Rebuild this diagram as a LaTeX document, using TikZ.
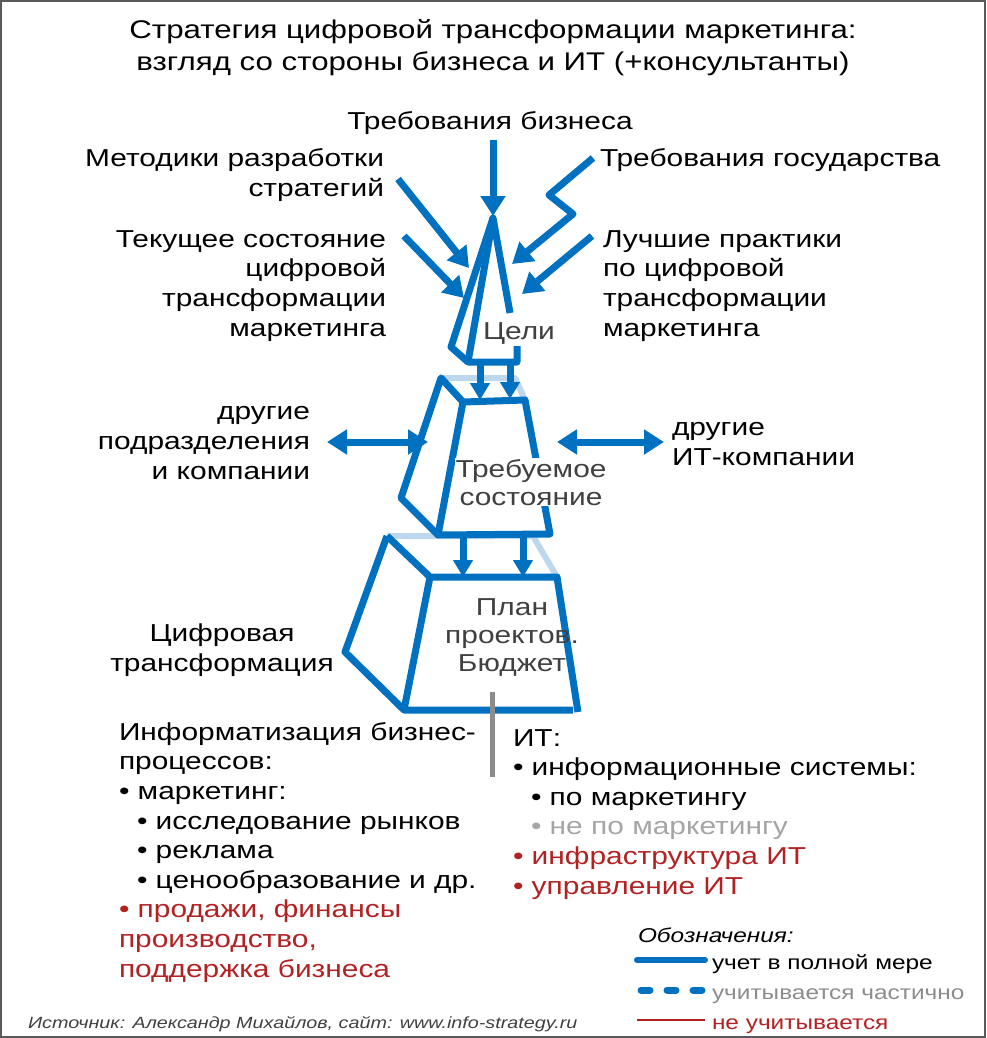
\documentclass[tikz,border=0pt]{standalone}
\usepackage{fontspec}
\setmainfont{Liberation Sans}[FakeStretch=1.22]
\usetikzlibrary{arrows.meta}
\definecolor{cblue}{RGB}{0,112,192}
\definecolor{clight}{RGB}{189,215,238}
\definecolor{cred}{RGB}{178,34,34}
\definecolor{cdgrey}{RGB}{64,64,64}
\definecolor{clgrey}{RGB}{165,165,165}
\definecolor{cmgrey}{RGB}{140,140,140}
\definecolor{cframe}{RGB}{90,90,90}
\begin{document}
\begin{tikzpicture}[x=1pt,y=-1pt,
  every node/.style={inner sep=0pt,outer sep=0pt},
  body/.style={font=\fontsize{24.5}{29.6}\selectfont},
  ttl/.style={font=\fontsize{25.6}{32}\selectfont},
  inner/.style={font=\fontsize{24.5}{28}\selectfont,text=cdgrey},
  legtxt/.style={font=\fontsize{20}{24}\selectfont},
  bl/.style={draw=cblue,line width=7pt,line join=round},
  lb/.style={draw=clight,line width=6pt,line join=round},
  arr/.style={bl,-{Triangle[length=20pt,width=24pt]}},
  sarr/.style={bl,-{Triangle[length=17pt,width=19pt]}},
  darr/.style={bl,{Triangle[length=20pt,width=24pt]}-{Triangle[length=20pt,width=24pt]}}
]
\useasboundingbox (0,0) rectangle (986,1038);
\draw[cframe,line width=2pt] (1,1) rectangle (985,1037);

% ---------- coordinates ----------
% top pyramid
\coordinate (P) at (493,218);
\coordinate (L1) at (451,347);
\coordinate (L2) at (468,362);
\coordinate (R1) at (510,313);
\coordinate (R2) at (517,346);
\coordinate (R3) at (517,362);
% middle block
\coordinate (Mbl) at (441,378);
\coordinate (Mbr) at (515,378);
\coordinate (Mtl) at (463,402);
\coordinate (Mtr) at (525,400);
\coordinate (Mdr) at (550,534);
\coordinate (Mdl) at (438,535);
\coordinate (Mo) at (401,498);
% bottom block
\coordinate (Bbl) at (387,536);
\coordinate (Bbr) at (533,536);
\coordinate (Btl) at (430,577);
\coordinate (Btr) at (557,577);
\coordinate (Bdr) at (578,712);
\coordinate (Bdl) at (404,710);
\coordinate (Bdr2) at (573,710);
\coordinate (Bo) at (345,652);

% arrow coordinates
\coordinate (a1s) at (493,140);  \coordinate (a1e) at (493,216);
\coordinate (a2s) at (398,179);  \coordinate (a2e) at (469,268);
\coordinate (a3s) at (404,236);  \coordinate (a3e) at (464,298);
\coordinate (a4s) at (593,158);  \coordinate (a4m) at (549,195);
\coordinate (a4n) at (573,214);  \coordinate (a4e) at (512,264);
\coordinate (a5s) at (592,236);  \coordinate (a5e) at (522,294);
\coordinate (d1s) at (480,362);  \coordinate (d1e) at (480,400);
\coordinate (d2s) at (510,362);  \coordinate (d2e) at (510,399);
\coordinate (d3s) at (463,535);  \coordinate (d3e) at (463,577);
\coordinate (d4s) at (523,534);  \coordinate (d4e) at (523,577);
\coordinate (h1s) at (327,442);  \coordinate (h1e) at (428,442);
\coordinate (h2s) at (557,442);  \coordinate (h2e) at (664,442);
\coordinate (g1) at (492,692);   \coordinate (g2) at (492,777);

% ---------- light (partial) back edges ----------
\draw[lb] (Mbl) -- (Mbr) -- (Mtr);
\draw[lb] (Bbl) -- (Bbr) -- (Btr);

% ---------- blue shapes ----------
\draw[bl] (R1) -- (P) -- (L1) -- (L2) -- (R3) -- (R2);
\draw[bl] (P) -- (L2);
\draw[bl] (Mbl) -- (Mtl) -- (Mtr) -- (Mdr) -- (Mdl) -- (Mo) -- cycle;
\draw[bl] (Mtl) -- (Mdl);
\draw[bl] (Bbl) -- (Btl) -- (Btr) -- (Bdr);
\draw[bl] (Btl) -- (Bdl);
\draw[bl] (Bbl) -- (Bo) -- (Bdl) -- (Bdr2);

% ---------- arrows ----------
\draw[arr] (a1s) -- (a1e);
\draw[arr] (a2s) -- (a2e);
\draw[arr] (a3s) -- (a3e);
\draw[arr] (a4s) -- (a4m) -- (a4n) -- (a4e);
\draw[arr] (a5s) -- (a5e);
\draw[sarr] (d1s) -- (d1e);
\draw[sarr] (d2s) -- (d2e);
\draw[sarr] (d3s) -- (d3e);
\draw[sarr] (d4s) -- (d4e);
\draw[darr] (h1s) -- (h1e);
\draw[darr] (h2s) -- (h2e);
\draw[draw=cmgrey,line width=5pt] (g1) -- (g2);

% ---------- texts (base anchor = baseline of last line) ----------
\node[ttl,anchor=base,align=center] (title) at (493,71)
  {Стратегия цифровой трансформации маркетинга:\\взгляд со стороны бизнеса и ИТ (+консультанты)};
\node[body,anchor=base] (biz) at (490,129) {Требования бизнеса};
\node[body,anchor=base east,align=right] (met) at (384,196) {Методики разработки\\стратегий};
\node[body,anchor=base west] (gos) at (600,166) {Требования государства};
\node[body,anchor=base east,align=right] (cur) at (386,336)
  {Текущее состояние\\цифровой\\трансформации\\маркетинга};
\node[body,anchor=base west,align=left] (best) at (603,336)
  {Лучшие практики\\по цифровой\\трансформации\\маркетинга};
\node[inner,anchor=base] (goals) at (519,339) {Цели};
\node[body,anchor=base east,align=right] (oth) at (310,479)
  {другие\\подразделения\\и компании};
\node[body,anchor=base west,align=left] (oit) at (672,465) {другие\\ИТ-компании};
\node[inner,anchor=base,align=center,fill=white,inner sep=1pt] (req) at (531,505)
  {Требуемое\\состояние};
\node[inner,anchor=base,align=center] (plan) at (512,671) {План\\проектов.\\Бюджет};
\node[body,anchor=base,align=center] (digit) at (222,671) {Цифровая\\трансформация};
\node[body,anchor=base west,align=left] (inf) at (119,977)
  {Информатизация бизнес-\\процессов:\\• маркетинг:\\\hspace*{18pt}• исследование рынков\\\hspace*{18pt}• реклама\\\hspace*{18pt}• ценообразование и др.\\
   \textcolor{cred}{• продажи, финансы}\\\textcolor{cred}{производство,}\\\textcolor{cred}{поддержка бизнеса}};
\node[body,anchor=base west,align=left] (it) at (513,894)
  {ИТ:\\• информационные системы:\\\hspace*{18pt}• по маркетингу\\\hspace*{18pt}\textcolor{clgrey}{• не по маркетингу}\\
   \textcolor{cred}{• инфраструктура ИТ}\\\textcolor{cred}{• управление ИТ}};

% ---------- legend ----------
\coordinate (l1a) at (637,960); \coordinate (l1b) at (705,960);
\coordinate (l2a) at (641,990); \coordinate (l2b) at (702,990);
\coordinate (l3a) at (637,1020); \coordinate (l3b) at (705,1020);
\node[legtxt,anchor=base west] (legt) at (638,942) {\itshape Обозначения:};
\draw[draw=cblue,line width=6pt,line cap=round] (l1a) -- (l1b);
\draw[draw=cblue,line width=7pt,line cap=round,dash pattern=on 9pt off 17pt] (l2a) -- (l2b);
\draw[draw=cred,line width=2pt] (l3a) -- (l3b);
\node[legtxt,anchor=base west] (leg1) at (712,969) {учет в полной мере};
\node[legtxt,anchor=base west,text=cmgrey] (leg2) at (712,999) {учитывается частично};
\node[legtxt,anchor=base west,text=cred] (leg3) at (712,1029) {не учитывается};

\node[anchor=base west,font=\fontsize{16.2}{20}\selectfont\itshape,text=cdgrey] (src) at (28,1028)
  {Источник: Александр Михайлов, сайт: www.info-strategy.ru};
\end{tikzpicture}
\end{document}
